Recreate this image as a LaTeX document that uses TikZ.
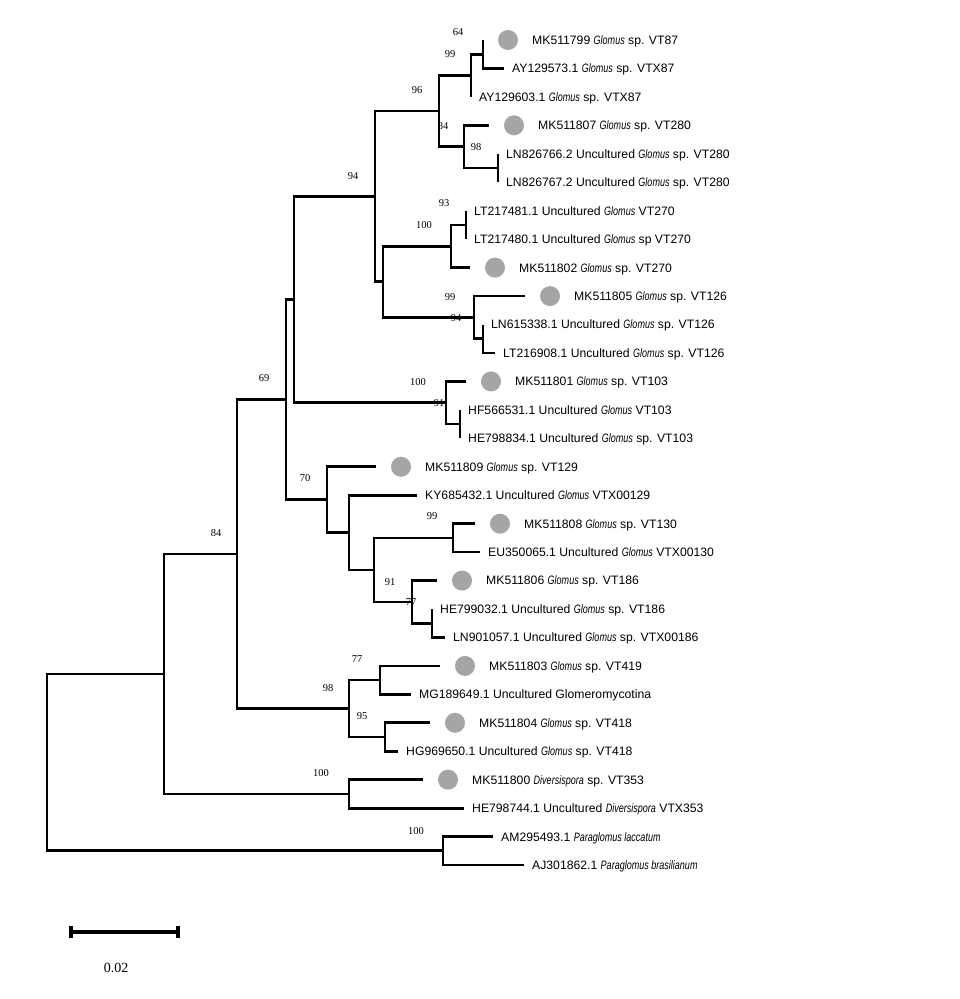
\documentclass[tikz,border=0pt]{standalone}
\usepackage{fontspec}
\usepackage{graphicx}
\setmainfont{Liberation Sans}
\newfontfamily\bsfont{Liberation Serif}
\definecolor{dotgray}{RGB}{165,165,165}
\newcommand\gen[1]{\scalebox{0.74}[1]{\itshape #1}}
\tikzset{
  br/.style={line width=2.7pt, line join=miter, line cap=butt},
  sbar/.style={line width=3.3pt, line cap=butt},
  dotc/.style={circle, fill=dotgray, minimum size=20pt, inner sep=0pt},
  leaftxt/.style={anchor=base west, inner sep=0pt, font=\fontsize{12.2}{14}\selectfont},
  bs/.style={inner sep=0pt, font=\bsfont\fontsize{10.5}{12}\selectfont},
  scalet/.style={inner sep=0pt, font=\bsfont\fontsize{14}{16}\selectfont}
}
\newcommand\dleaf[4]{%
  \coordinate (#1) at (#2,#3);
  \node[dotc] (#1d) at (#2+25,#3) {};
  \node[leaftxt] (#1t) at (#2+49,#3+4.4) {#4};}
\newcommand\pleaf[4]{%
  \coordinate (#1) at (#2,#3);
  \node[leaftxt] (#1t) at (#2+8,#3+4.4) {#4};}
\begin{document}
\begin{tikzpicture}[x=1pt,y=-1pt]
\useasboundingbox (0,0) rectangle (960,999);
\fill[white] (0,0) rectangle (960,999);
% leaves
\dleaf{l1}{483}{40.0}{MK511799 \gen{Glomus} sp. VT87}
\pleaf{l2}{504}{68.45}{AY129573.1 \gen{Glomus} sp. VTX87}
\pleaf{l3}{471}{96.9}{AY129603.1 \gen{Glomus} sp. VTX87}
\dleaf{l4}{489}{125.35}{MK511807 \gen{Glomus} sp. VT280}
\pleaf{l5}{498}{153.8}{LN826766.2 Uncultured \gen{Glomus} sp. VT280}
\pleaf{l6}{498}{182.25}{LN826767.2 Uncultured \gen{Glomus} sp. VT280}
\pleaf{l7}{466}{210.7}{LT217481.1 Uncultured \gen{Glomus} VT270}
\pleaf{l8}{466}{239.15}{LT217480.1 Uncultured \gen{Glomus} sp VT270}
\dleaf{l9}{470}{267.6}{MK511802 \gen{Glomus} sp. VT270}
\dleaf{l10}{525}{296.05}{MK511805 \gen{Glomus} sp. VT126}
\pleaf{l11}{483}{324.5}{LN615338.1 Uncultured \gen{Glomus} sp. VT126}
\pleaf{l12}{495}{352.95}{LT216908.1 Uncultured \gen{Glomus} sp. VT126}
\dleaf{l13}{466}{381.4}{MK511801 \gen{Glomus} sp. VT103}
\pleaf{l14}{460}{409.85}{HF566531.1 Uncultured \gen{Glomus} VT103}
\pleaf{l15}{460}{438.3}{HE798834.1 Uncultured \gen{Glomus} sp. VT103}
\dleaf{l16}{376}{466.75}{MK511809 \gen{Glomus} sp. VT129}
\pleaf{l17}{417}{495.2}{KY685432.1 Uncultured \gen{Glomus} VTX00129}
\dleaf{l18}{475}{523.65}{MK511808 \gen{Glomus} sp. VT130}
\pleaf{l19}{480}{552.1}{EU350065.1 Uncultured \gen{Glomus} VTX00130}
\dleaf{l20}{437}{580.55}{MK511806 \gen{Glomus} sp. VT186}
\pleaf{l21}{432}{609.0}{HE799032.1 Uncultured \gen{Glomus} sp. VT186}
\pleaf{l22}{445}{637.45}{LN901057.1 Uncultured \gen{Glomus} sp. VTX00186}
\dleaf{l23}{440}{665.9}{MK511803 \gen{Glomus} sp. VT419}
\pleaf{l24}{411}{694.35}{MG189649.1 Uncultured Glomeromycotina}
\dleaf{l25}{430}{722.8}{MK511804 \gen{Glomus} sp. VT418}
\pleaf{l26}{398}{751.25}{HG969650.1 Uncultured \gen{Glomus} sp. VT418}
\dleaf{l27}{423}{779.7}{MK511800 \gen{Diversispora} sp. VT353}
\pleaf{l28}{464}{808.15}{HE798744.1 Uncultured \gen{Diversispora} VTX353}
\pleaf{l29}{493}{836.6}{AM295493.1 \gen{Paraglomus laccatum}}
\pleaf{l30}{524}{865.05}{AJ301862.1 \gen{Paraglomus brasilianum}}
% internal nodes
\coordinate (P) at (483,54.2);
\coordinate (N) at (471,75.6);
\coordinate (Q) at (498,168.0);
\coordinate (O) at (464,146.7);
\coordinate (L) at (439,111.1);
\coordinate (U) at (466,224.9);
\coordinate (S) at (451,246.3);
\coordinate (V) at (483,338.7);
\coordinate (T) at (474,317.4);
\coordinate (M) at (383,281.8);
\coordinate (I) at (375,196.5);
\coordinate (K) at (460,424.1);
\coordinate (J) at (446,402.7);
\coordinate (G) at (294,299.6);
\coordinate (Y) at (453,537.9);
\coordinate (AA) at (432,623.2);
\coordinate (Z) at (412,601.9);
\coordinate (X) at (374,569.9);
\coordinate (W) at (349,532.5);
\coordinate (H) at (327,499.7);
\coordinate (C) at (286,399.6);
\coordinate (E) at (380,680.1);
\coordinate (F) at (385,737.0);
\coordinate (D) at (349,708.6);
\coordinate (B) at (237,554.1);
\coordinate (Dv) at (349,793.9);
\coordinate (A) at (164,674.0);
\coordinate (Pg) at (443,850.8);
\coordinate (R) at (47,762.4);
% branches
\draw[br] (l1) -| (P) |- (l2);
\draw[br] (P) -| (N) |- (l3);
\draw[br] (l5) -| (Q) |- (l6);
\draw[br] (l4) -| (O) |- (Q);
\draw[br] (N) -| (L) |- (O);
\draw[br] (l7) -| (U) |- (l8);
\draw[br] (U) -| (S) |- (l9);
\draw[br] (l11) -| (V) |- (l12);
\draw[br] (l10) -| (T) |- (V);
\draw[br] (S) -| (M) |- (T);
\draw[br] (L) -| (I) |- (M);
\draw[br] (l14) -| (K) |- (l15);
\draw[br] (l13) -| (J) |- (K);
\draw[br] (I) -| (G) |- (J);
\draw[br] (l18) -| (Y) |- (l19);
\draw[br] (l21) -| (AA) |- (l22);
\draw[br] (l20) -| (Z) |- (AA);
\draw[br] (Y) -| (X) |- (Z);
\draw[br] (l17) -| (W) |- (X);
\draw[br] (l16) -| (H) |- (W);
\draw[br] (G) -| (C) |- (H);
\draw[br] (l23) -| (E) |- (l24);
\draw[br] (l25) -| (F) |- (l26);
\draw[br] (E) -| (D) |- (F);
\draw[br] (C) -| (B) |- (D);
\draw[br] (l27) -| (Dv) |- (l28);
\draw[br] (B) -| (A) |- (Dv);
\draw[br] (l29) -| (Pg) |- (l30);
\draw[br] (A) -| (R) |- (Pg);
% bootstrap values
\node[bs] (b1) at (458,32) {64};
\node[bs] (b2) at (450,54) {99};
\node[bs] (b3) at (417,90) {96};
\node[bs] (b4) at (443,126) {84};
\node[bs] (b5) at (476,147) {98};
\node[bs] (b6) at (353,176) {94};
\node[bs] (b7) at (444,203) {93};
\node[bs] (b8) at (424,225) {100};
\node[bs] (b9) at (450,297) {99};
\node[bs] (b10) at (456,318) {94};
\node[bs] (b11) at (418,382) {100};
\node[bs] (b12) at (439,403) {91};
\node[bs] (b13) at (264,378) {69};
\node[bs] (b14) at (305,478) {70};
\node[bs] (b15) at (432,516) {99};
\node[bs] (b16) at (390,582) {91};
\node[bs] (b17) at (411,602) {77};
\node[bs] (b18) at (216,533) {84};
\node[bs] (b19) at (357,659) {77};
\node[bs] (b20) at (328,688) {98};
\node[bs] (b21) at (362,716) {95};
\node[bs] (b22) at (321,773) {100};
\node[bs] (b23) at (416,831) {100};
% scale bar
\coordinate (s1) at (71,932);
\coordinate (s2) at (178,932);
\coordinate (s1a) at (71,926);
\coordinate (s1b) at (71,938);
\coordinate (s2a) at (178,926);
\coordinate (s2b) at (178,938);
\draw[sbar] (s1) -- (s2);
\draw[sbar] (s1a) -- (s1b);
\draw[sbar] (s2a) -- (s2b);
\node[scalet] (sl) at (116,968) {0.02};
\end{tikzpicture}
\end{document}
